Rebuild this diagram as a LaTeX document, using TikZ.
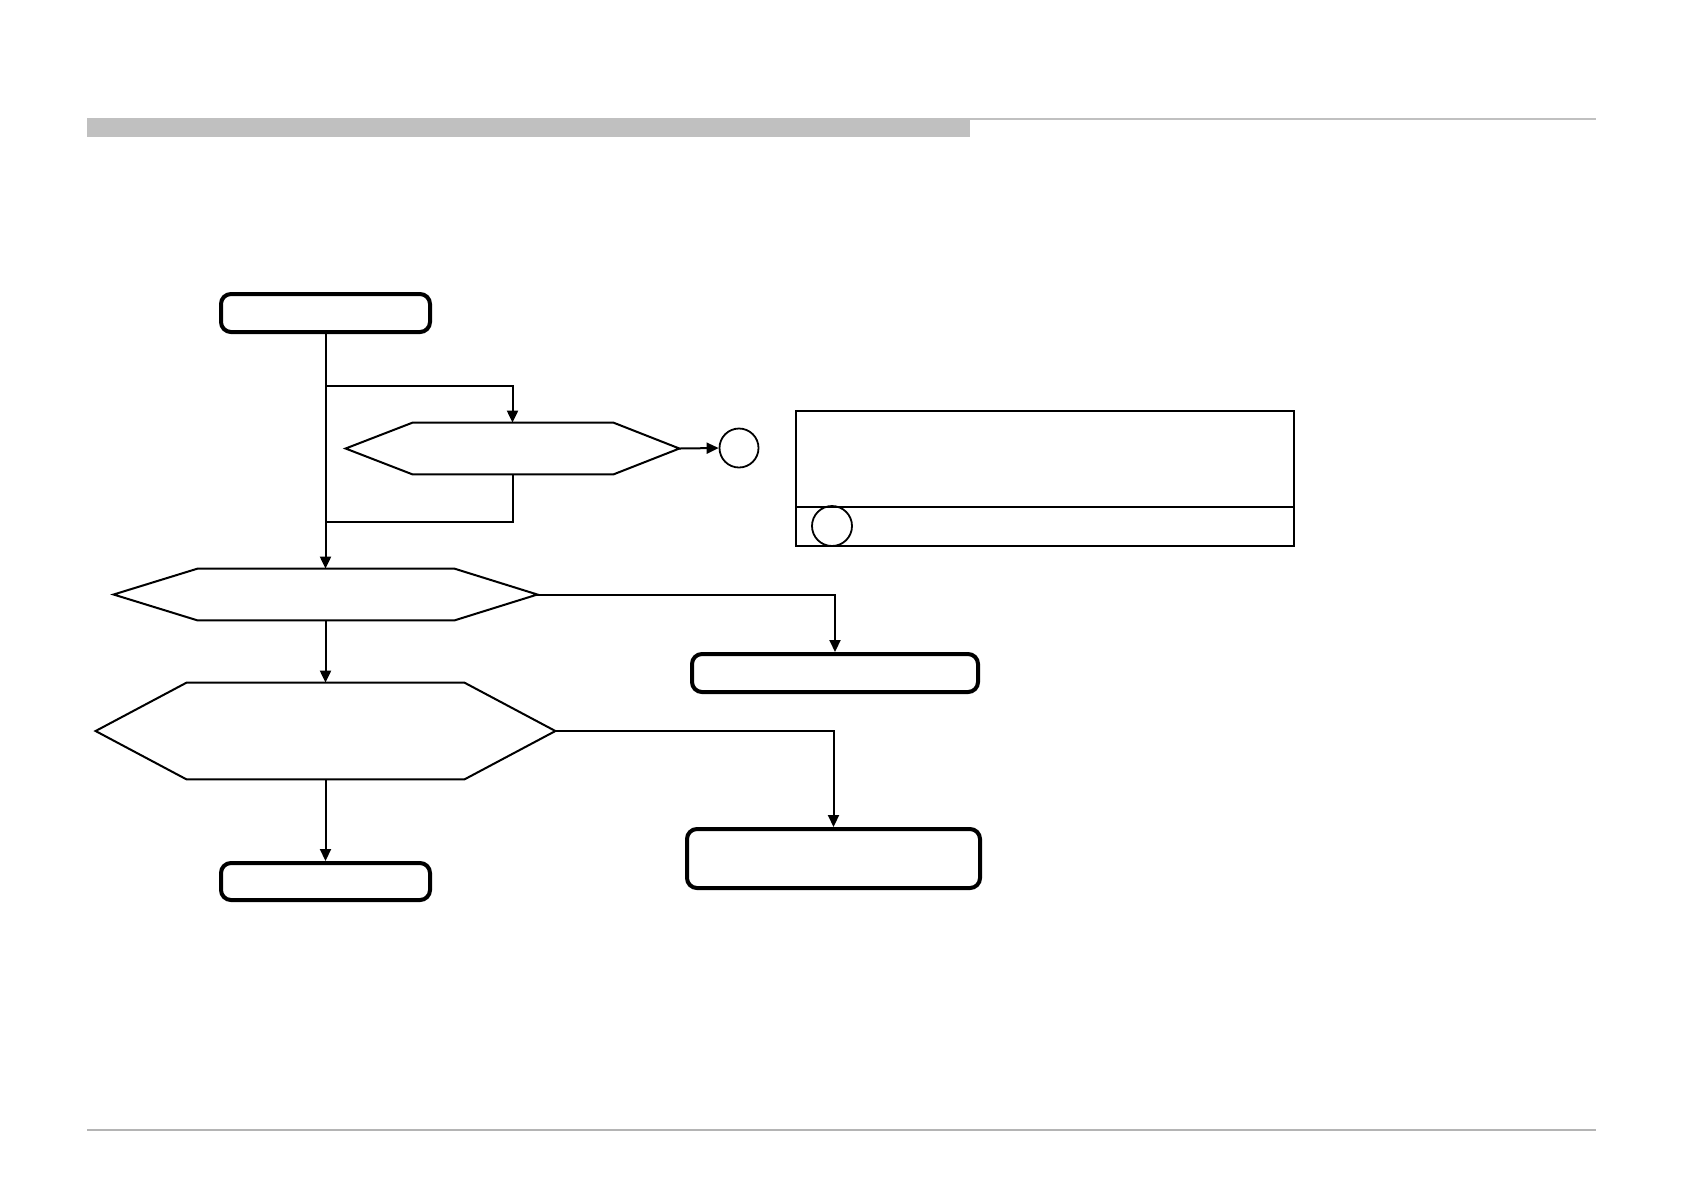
\documentclass[tikz,border=0pt]{standalone}
\usetikzlibrary{arrows.meta,calc,fit}
\definecolor{hdrgray}{HTML}{C0C0C0}
\definecolor{rulegray}{HTML}{B4B4B4}
\begin{document}
\begin{tikzpicture}[x=0.5pt,y=-0.5pt,
  termbox/.style={draw,line width=2pt,rounded corners=5pt,inner sep=0pt},
  hexarea/.style={inner sep=0pt,draw=none},
  hexline/.style={line width=1pt,line join=miter},
  conn/.style={line width=1pt,-{Triangle[length=6pt,width=5.5pt]}},
  plain/.style={line width=1pt},
  connector/.style={draw,circle,line width=0.9pt,inner sep=0pt,minimum size=19.5pt},
  legendbox/.style={draw,line width=1pt,inner sep=0pt}]
\useasboundingbox (0,0) rectangle (1684,1191);
% header and footer
\fill[hdrgray] (87,118) rectangle (970,137);
\draw[hdrgray,line width=1pt] (970,119) -- (1596,119);
\draw[rulegray,line width=0.6pt] (87,1130) -- (1596,1130);
% terminal boxes
\node[termbox,fit={(221,294) (430,332)}] (start) {};
\node[termbox,fit={(692,654) (978,692)}] (r1) {};
\node[termbox,fit={(687,829) (980,888)}] (r2) {};
\node[termbox,fit={(221,863) (430,900)}] (finish) {};
% hexagons
\node[hexarea,fit={(346,423) (679,474)}] (h1) {};
\draw[hexline] (h1.west) -- ([xshift=33.5pt]h1.north west) -- ([xshift=-33pt]h1.north east) -- (h1.east) -- ([xshift=-33pt]h1.south east) -- ([xshift=33.5pt]h1.south west) -- cycle;
\node[hexarea,fit={(114,569) (537,620)}] (h2) {};
\draw[hexline] (h2.west) -- ([xshift=42pt]h2.north west) -- ([xshift=-41.5pt]h2.north east) -- (h2.east) -- ([xshift=-41.5pt]h2.south east) -- ([xshift=42pt]h2.south west) -- cycle;
\node[hexarea,fit={(96,683) (555,779)}] (h3) {};
\draw[hexline] (h3.west) -- ([xshift=45.5pt]h3.north west) -- ([xshift=-45.5pt]h3.north east) -- (h3.east) -- ([xshift=-45.5pt]h3.south east) -- ([xshift=45.5pt]h3.south west) -- cycle;
% off-page connector
\node[connector] (c1) at (739,448) {};
% legend
\node[legendbox,fit={(796,411) (1294,546)}] (legend) {};
\coordinate (ldiv) at (796,507);
\draw[line width=0.8pt] (legend.west |- ldiv) -- (legend.east |- ldiv);
\node[connector,minimum size=20pt] (c2) at (832,526) {};
% connectors
\coordinate (b1) at (325.5,386);
\coordinate (b2) at (325.5,522);
\draw[conn] (start.south) -- (start.south |- h2.north);
\draw[conn] (b1) -| (h1.north);
\draw[plain] (h1.south) |- (b2);
\draw[conn] (h1.east) -- (c1.west);
\draw[conn] (h2.east) -| (r1.north);
\draw[conn] (h2.south) -- (h2.south |- h3.north);
\draw[conn] (h3.east) -| (r2.north);
\draw[conn] (h3.south) -- (h3.south |- finish.north);
\end{tikzpicture}
\end{document}
